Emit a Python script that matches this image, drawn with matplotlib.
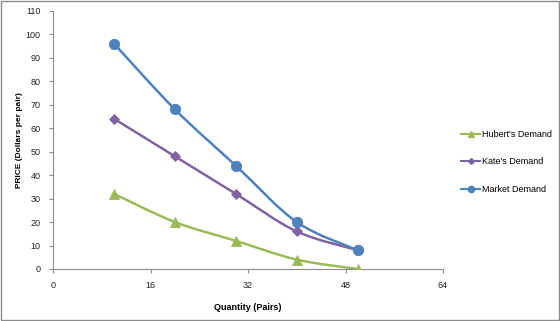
import matplotlib
matplotlib.use("Agg")
import matplotlib.pyplot as plt
import numpy as np
from matplotlib.lines import Line2D
from matplotlib.path import Path
from matplotlib.patches import PathPatch, Rectangle

quantity = [10, 20, 30, 40, 50]
hubert = [32, 20, 12, 4, 0]
kate = [64, 48, 32, 16, 8]
market = [96, 68, 44, 20, 8]
x_ticks = [0, 16, 32, 48, 64]
y_ticks = list(range(0, 111, 10))

SERIES = [
    ("Hubert's Demand", hubert, "#9BBB59", "^", 7),
    ("Kate's Demand", kate, "#8064A2", "D", 5),
    ("Market Demand", market, "#4F81BD", "o", 7.5),
]

plt.rcParams["font.family"] = ["Liberation Sans", "DejaVu Sans"]


def smooth_path(xs, ys):
    # Excel-style smoothed line: cubic Bezier through each point
    pts = np.column_stack([xs, ys]).astype(float)
    verts = [pts[0]]
    codes = [Path.MOVETO]
    n = len(pts)
    for i in range(n - 1):
        p0 = pts[max(i - 1, 0)]
        p1 = pts[i]
        p2 = pts[i + 1]
        p3 = pts[min(i + 2, n - 1)]
        verts += [p1 + (p2 - p0) / 6, p2 - (p3 - p1) / 6, p2]
        codes += [Path.CURVE4] * 3
    return Path(verts, codes)


fig = plt.figure(figsize=(5.6, 3.21), dpi=100)
fig.patches.append(Rectangle((0.001, 0.002), 0.997, 0.995, transform=fig.transFigure,
                             fill=False, edgecolor="#8c8c8c", linewidth=1))
ax = fig.add_axes([0.095, 0.162, 0.696, 0.804])

handles = []
for name, values, color, marker, size in SERIES:
    ax.add_patch(PathPatch(smooth_path(quantity, values), facecolor="none",
                           edgecolor=color, linewidth=1.8, zorder=2))
    ax.plot(quantity, values, linestyle="none", marker=marker, markersize=size,
            markerfacecolor=color, markeredgecolor=color, markeredgewidth=0.6,
            zorder=3)
    handles.append(Line2D([], [], color=color, linewidth=1.5, marker=marker,
                          markersize=size * 0.6, label=name))

ax.set_xlim(0, 64)
ax.set_ylim(0, 110)
ax.set_xticks(x_ticks)
ax.set_yticks(y_ticks)
ax.tick_params(labelsize=6.5, colors="#8c8c8c", labelcolor="#222222",
               length=3, width=0.8)
ax.tick_params(axis="y", pad=6)
ax.tick_params(axis="x", pad=6)
ax.spines[["top", "right"]].set_visible(False)
for side in ("left", "bottom"):
    ax.spines[side].set_color("#8c8c8c")
    ax.spines[side].set_linewidth(0.8)

ax.set_xlabel("Quantity (Pairs)", fontsize=6.5, fontweight="bold", labelpad=9)
ax.set_ylabel("PRICE (Dollars per pair)", fontsize=6, fontweight="bold", labelpad=2)

fig.legend(handles=handles, loc="upper left", bbox_to_anchor=(0.808, 0.621),
           frameon=False, fontsize=6.5, handlelength=2.2, handletextpad=0.2,
           labelspacing=2.05)

fig.savefig("out.png", dpi=100, facecolor="white")
